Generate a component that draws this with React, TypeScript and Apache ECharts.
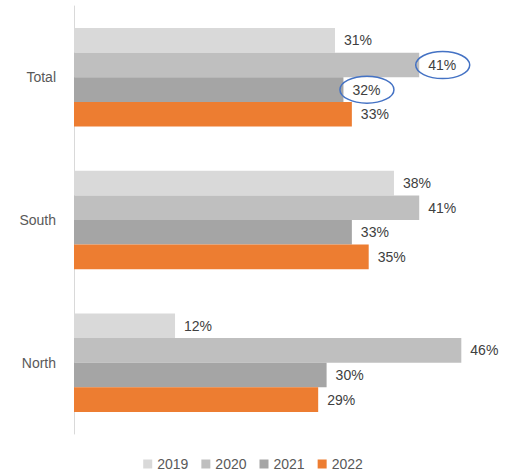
import React, { useEffect, useRef } from "react";
import * as echarts from "echarts";

const categories = ["Total", "South", "North"];
const seriesNames = ["2019", "2020", "2021", "2022"];
const values2019 = [31, 38, 12];
const values2020 = [41, 41, 46];
const values2021 = [32, 33, 30];
const values2022 = [33, 35, 29];
const colors = ["#d9d9d9", "#bfbfbf", "#a5a5a5", "#ed7d31"];
// highlighted labels: [seriesIndex, categoryIndex]
const highlights = [
  [1, 0],
  [2, 0],
];

const FONT = "'Liberation Sans', Arial, sans-serif";

export default function App() {
  const ref = useRef<HTMLDivElement>(null);
  useEffect(() => {
    if (!ref.current) return;
    const chart = echarts.init(ref.current, undefined, { renderer: "svg" });
    const allValues = [values2019, values2020, values2021, values2022];
    const option: any = {
      animation: false,
      textStyle: { fontFamily: FONT },
      grid: { left: 74, right: 11, top: 6, bottom: 40, containLabel: false },
      xAxis: {
        type: "value",
        min: 0,
        max: 50,
        show: false,
        splitLine: { show: false },
      },
      yAxis: {
        type: "category",
        data: categories,
        inverse: true,
        axisLine: { show: true, lineStyle: { color: "#d9d9d9", width: 1 } },
        axisTick: { show: false },
        axisLabel: { color: "#595959", fontSize: 14, margin: 18, fontFamily: FONT },
      },
      legend: {
        top: 452,
        left: "center",
        icon: "rect",
        itemWidth: 9,
        itemHeight: 9,
        itemGap: 13,
        textStyle: { color: "#595959", fontSize: 14, fontFamily: FONT },
        data: seriesNames,
      },
      series: seriesNames.map((name, i) => ({
        name,
        type: "bar",
        data: allValues[i],
        barGap: "0%",
        barCategoryGap: "31%",
        itemStyle: { color: colors[i] },
        label: {
          show: true,
          position: "right",
          distance: 9,
          formatter: "{c}%",
          color: "#404040",
          fontSize: 14,
          fontFamily: FONT,
        },
      })),
    };
    chart.setOption(option);

    // compute ellipse positions around highlighted labels
    const p0 = chart.convertToPixel({ gridIndex: 0 }, [0, 0]) as number[];
    const p1 = chart.convertToPixel({ gridIndex: 0 }, [0, 1]) as number[];
    const band = Math.abs(p1[1] - p0[1]);
    const groupH = band * (1 - 0.31);
    const barH = groupH / seriesNames.length;
    const graphics = highlights.map(([si, ci]) => {
      const v = allValues[si][ci];
      const pt = chart.convertToPixel({ gridIndex: 0 }, [v, ci]) as number[];
      const cy = pt[1] - groupH / 2 + barH * (si + 0.5);
      const cx = pt[0] + 23.5;
      return {
        type: "ellipse",
        shape: { cx, cy, rx: 27, ry: 13.5 },
        style: { fill: "none", stroke: "#4472c4", lineWidth: 1.5 },
        z: 100,
      };
    });
    chart.setOption({ graphic: graphics });

    return () => chart.dispose();
  }, []);
  return (
    <div
      ref={ref}
      style={{ position: "fixed", left: 0, top: 0, width: 506, height: 474, background: "#fff" }}
    />
  );
}
